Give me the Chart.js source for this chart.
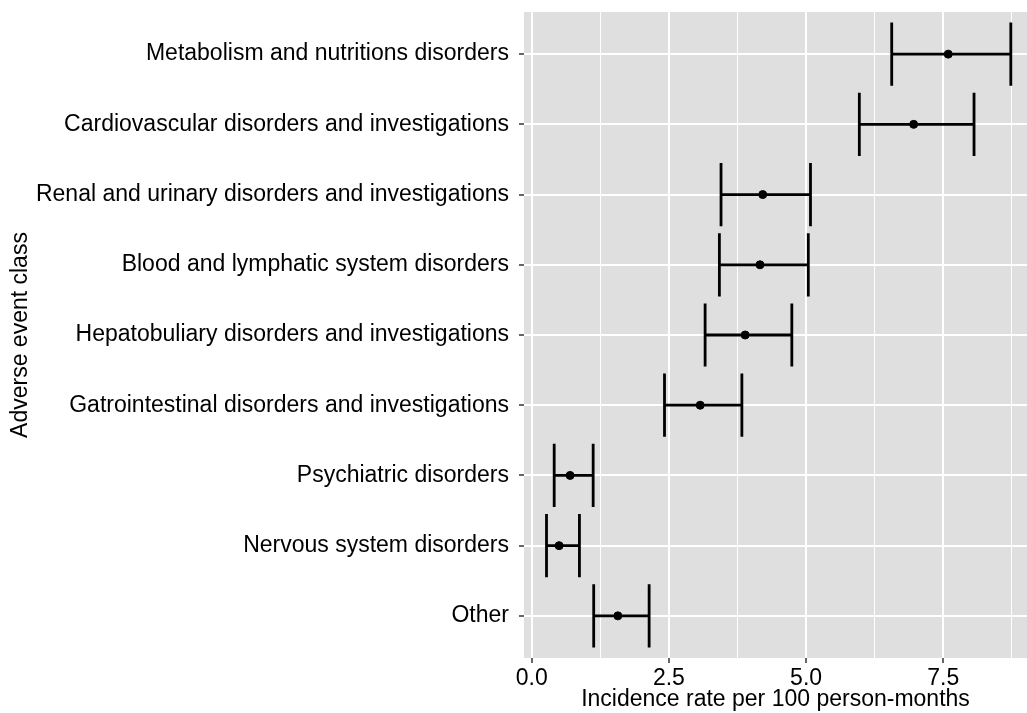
<!DOCTYPE html>
<html>
<head>
<meta charset="utf-8">
<script src="https://cdn.jsdelivr.net/npm/chart.js@4"></script>
<style>
  html, body { margin: 0; padding: 0; background: #ffffff; }
  #wrap { width: 1027px; height: 713px; }
</style>
</head>
<body>
<div id="wrap"><canvas id="forestChart" width="1027" height="713"></canvas></div>
<script>
"use strict";

// Adverse event classes, top to bottom
const categories = [
    "Metabolism and nutritions disorders",
    "Cardiovascular disorders and investigations",
    "Renal and urinary disorders and investigations",
    "Blood and lymphatic system disorders",
    "Hepatobuliary disorders and investigations",
    "Gatrointestinal disorders and investigations",
    "Psychiatric disorders",
    "Nervous system disorders",
    "Other"
];

// Incidence rate per 100 person-months with confidence limits
const rates = [7.59, 6.96, 4.21, 4.16, 3.89, 3.07, 0.70, 0.50, 1.57];
const lower = [6.56, 5.97, 3.45, 3.42, 3.16, 2.42, 0.41, 0.27, 1.13];
const upper = [8.73, 8.06, 5.08, 5.04, 4.74, 3.83, 1.12, 0.87, 2.14];

// x axis ticks (major labelled, minor just grid)
const majorTicks = [0, 2.5, 5, 7.5];
const minorTicks = [1.25, 3.75, 6.25, 8.75];
const tickLabels = ["0.0", "2.5", "5.0", "7.5"];

const FONT = "'Liberation Sans', Arial, Helvetica, sans-serif";
const FONT_SIZE = 23;
const PANEL_LEFT = 524;
const PAD_LEFT = 7;

/* Grey ggplot-like panel behind everything */
const panelBackground = {
    id: "panelBackground",
    beforeDraw(chart) {
        const { ctx, chartArea } = chart;
        ctx.save();
        ctx.fillStyle = "#dfdfdf";
        ctx.fillRect(chartArea.left, chartArea.top,
            chartArea.right - chartArea.left, chartArea.bottom - chartArea.top);
        ctx.restore();
    }
};

/* Horizontal error bars with end caps, drawn through the scales */
const errorBars = {
    id: "errorBars",
    beforeDatasetsDraw(chart) {
        const { ctx } = chart;
        const x = chart.scales.x;
        const y = chart.scales.y;
        ctx.save();
        ctx.strokeStyle = "#000000";
        ctx.lineWidth = 2.8;
        ctx.lineCap = "butt";
        for (let i = 0; i < categories.length; i++) {
            const x0 = x.getPixelForValue(lower[i]);
            const x1 = x.getPixelForValue(upper[i]);
            const yc = y.getPixelForValue(i);
            const yTop = y.getPixelForValue(i - 0.45);
            const yBot = y.getPixelForValue(i + 0.45);
            ctx.beginPath();
            ctx.moveTo(x0, yc);
            ctx.lineTo(x1, yc);
            ctx.moveTo(x0, yTop);
            ctx.lineTo(x0, yBot);
            ctx.moveTo(x1, yTop);
            ctx.lineTo(x1, yBot);
            ctx.stroke();
        }
        ctx.restore();
    }
};

const points = rates.map((r, i) => ({ x: r, y: i }));

new Chart(document.getElementById("forestChart"), {
    type: "scatter",
    data: {
        datasets: [{
            label: "Incidence rate",
            data: points,
            backgroundColor: "#000000",
            borderColor: "#000000",
            pointRadius: 4,
            pointHoverRadius: 4,
            showLine: false
        }]
    },
    options: {
        responsive: false,
        animation: false,
        events: [],
        layout: {
            autoPadding: false,
            padding: { left: PAD_LEFT, top: 12, right: 0, bottom: 0 }
        },
        plugins: {
            legend: { display: false },
            tooltip: { enabled: false }
        },
        scales: {
            x: {
                type: "linear",
                min: -0.14,
                max: 9.025,
                afterBuildTicks: (axis) => {
                    axis.ticks = majorTicks.concat(minorTicks)
                        .sort((a, b) => a - b)
                        .map(v => ({ value: v }));
                },
                afterFit: (axis) => {
                    axis.height = 55;
                    axis.paddingLeft = 0;
                    axis.paddingRight = 0;
                },
                border: { display: false },
                grid: {
                    color: "#ffffff",
                    lineWidth: (c) => majorTicks.includes(c.tick.value) ? 2 : 1,
                    tickColor: (c) => majorTicks.includes(c.tick.value) ? "#333333" : "rgba(0,0,0,0)",
                    tickLength: 5,
                    tickWidth: 1.5
                },
                ticks: {
                    autoSkip: false,
                    maxRotation: 0,
                    padding: 2,
                    color: "#000000",
                    font: { family: FONT, size: FONT_SIZE },
                    callback: (value) => {
                        const idx = majorTicks.indexOf(value);
                        return idx >= 0 ? tickLabels[idx] : "";
                    }
                },
                title: {
                    display: true,
                    text: "Incidence rate per 100 person-months",
                    color: "#000000",
                    padding: { top: 0, bottom: 0 },
                    font: { family: FONT, size: FONT_SIZE }
                }
            },
            y: {
                type: "linear",
                reverse: true,
                min: -0.6,
                max: categories.length - 0.4,
                afterBuildTicks: (axis) => {
                    axis.ticks = categories.map((c, i) => ({ value: i }));
                },
                afterFit: (axis) => {
                    axis.width = PANEL_LEFT - PAD_LEFT;
                    axis.paddingTop = 0;
                    axis.paddingBottom = 0;
                },
                border: { display: false },
                grid: {
                    color: "#ffffff",
                    lineWidth: 2,
                    tickColor: "#333333",
                    tickLength: 5,
                    tickWidth: 1.5
                },
                ticks: {
                    autoSkip: false,
                    padding: 10,
                    color: "#000000",
                    font: { family: FONT, size: FONT_SIZE },
                    callback: (value) => categories[value]
                },
                title: {
                    display: true,
                    text: "Adverse event class",
                    color: "#000000",
                    padding: { top: 0, bottom: 0 },
                    font: { family: FONT, size: FONT_SIZE }
                }
            }
        }
    },
    plugins: [panelBackground, errorBars]
});
</script>
</body>
</html>
